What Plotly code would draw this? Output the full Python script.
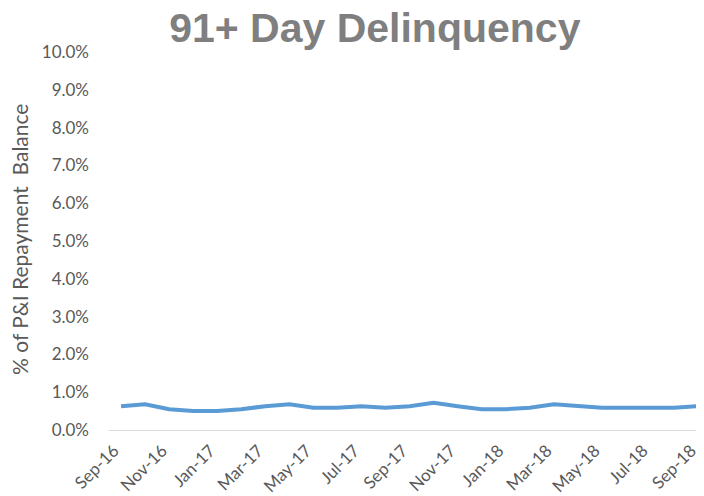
import plotly.graph_objects as go

months = ["Sep-16", "Oct-16", "Nov-16", "Dec-16", "Jan-17", "Feb-17", "Mar-17",
          "Apr-17", "May-17", "Jun-17", "Jul-17", "Aug-17", "Sep-17", "Oct-17",
          "Nov-17", "Dec-17", "Jan-18", "Feb-18", "Mar-18", "Apr-18", "May-18",
          "Jun-18", "Jul-18", "Aug-18", "Sep-18"]
delinquency = [0.63, 0.68, 0.55, 0.50, 0.50, 0.55, 0.63, 0.68, 0.59, 0.59,
               0.63, 0.59, 0.63, 0.72, 0.63, 0.55, 0.55, 0.59, 0.68, 0.63,
               0.59, 0.59, 0.59, 0.59, 0.63]
y_ticks = [0, 1, 2, 3, 4, 5, 6, 7, 8, 9, 10]

x_idx = list(range(len(months)))

fig = go.Figure(go.Scatter(
    x=x_idx,
    y=delinquency,
    mode="lines",
    line=dict(color="#5b9bd5", width=4),
))

# page body keeps its default 8px margin, so the figure is 8px smaller
fig.update_layout(
    width=696,
    height=488,
    margin=dict(l=101, r=1, t=44, b=66),
    paper_bgcolor="white",
    plot_bgcolor="white",
    showlegend=False,
    font=dict(family="Lato", color="#595959", size=17),
    title=dict(
        text="<b>91+ Day Delinquency</b>",
        x=0.527, xanchor="center",
        y=1.0, yanchor="top",
        pad=dict(t=5),
        font=dict(family="Liberation Sans", size=41, color="#7f7f7f"),
    ),
    xaxis=dict(
        range=[-0.5, 24.2],
        tickmode="array",
        tickvals=x_idx[::2],
        ticktext=months[::2],
        tickangle=-45,
        showgrid=False,
        zeroline=False,
        showline=True,
        linecolor="#d9d9d9",
        linewidth=1,
        ticks="",
        automargin=False,
        ticklabeloverflow="allow",
        ticklabelshift=-7,
        ticklabelstandoff=3,
        tickfont=dict(size=17, color="#595959"),
    ),
    yaxis=dict(
        range=[0, 10],
        tickmode="array",
        tickvals=y_ticks,
        ticktext=["{:.1f}%".format(v) for v in y_ticks],
        showgrid=False,
        zeroline=False,
        showline=False,
        ticks="",
        automargin=False,
        ticklabelstandoff=19,
        tickfont=dict(size=17, color="#595959"),
    ),
    annotations=[dict(
        text="% of P&I Repayment  Balance",
        textangle=-90,
        xref="paper", yref="paper",
        x=-0.1498, y=0.503,
        xanchor="center", yanchor="middle",
        showarrow=False,
        font=dict(size=21, color="#595959"),
    )],
)

fig.write_html("out.html")
